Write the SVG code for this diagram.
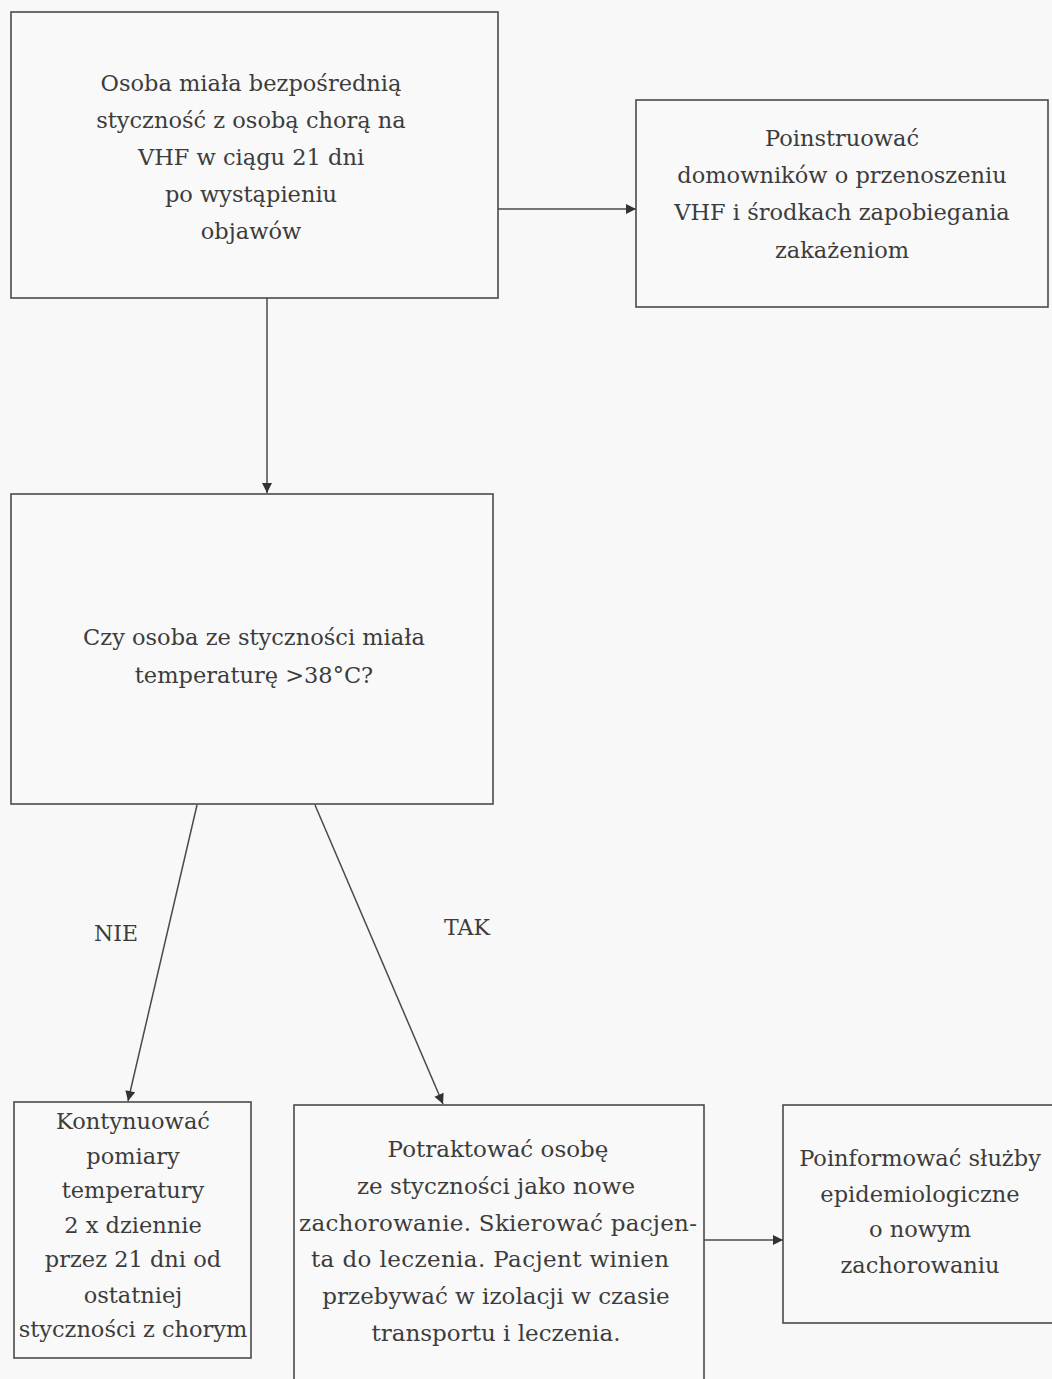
<svg xmlns="http://www.w3.org/2000/svg" width="1052" height="1379" viewBox="0 0 1052 1379">
<defs>
<style>
.bg{fill:#f8f8f8}
.box{fill:#f9f9f9;stroke:#4a4a4a;stroke-width:1.6}
.t{font-family:"DejaVu Serif","Liberation Serif",serif;font-size:22.5px;fill:#3c3c3c;text-anchor:middle}
.t5{font-family:"DejaVu Serif","Liberation Serif",serif;font-size:23px;fill:#3c3c3c;text-anchor:middle}
.lbl{font-family:"DejaVu Serif","Liberation Serif",serif;font-size:22px;fill:#3c3c3c;text-anchor:middle}
.c{stroke:#4a4a4a;stroke-width:1.5;fill:none;marker-end:url(#ah)}
</style>
<marker id="ah" viewBox="0 0 10 10" refX="10" refY="5" markerWidth="12" markerHeight="10" markerUnits="userSpaceOnUse" orient="auto">
<path d="M0,0 L10,5 L0,10 Z" fill="#333"/>
</marker>
</defs>
<rect class="bg" x="0" y="0" width="1052" height="1379"/>
<g id="connectors">
<path class="c" d="M498,209 L636,209"/>
<path class="c" d="M267,298 L267,493"/>
<path class="c" d="M197,805 L128,1101"/>
<path class="c" d="M315,805 L443,1104"/>
<path class="c" d="M704,1240 L783,1240"/>
<text class="lbl" x="116" y="941">NIE</text>
<text class="lbl" x="467" y="935">TAK</text>
</g>
<g id="n1">
<rect class="box" x="11" y="12" width="487" height="286"/>
<text class="t" x="251" y="91">Osoba miała bezpośrednią</text>
<text class="t" x="251" y="128">styczność z osobą chorą na</text>
<text class="t" x="251" y="165">VHF w ciągu 21 dni</text>
<text class="t" x="251" y="202">po wystąpieniu</text>
<text class="t" x="251" y="239">objawów</text>
</g>
<g id="n2">
<rect class="box" x="636" y="100" width="412" height="207"/>
<text class="t" x="842" y="146">Poinstruować</text>
<text class="t" x="842" y="183">domowników o przenoszeniu</text>
<text class="t" x="842" y="220">VHF i środkach zapobiegania</text>
<text class="t" x="842" y="258">zakażeniom</text>
</g>
<g id="n3">
<rect class="box" x="11" y="494" width="482" height="310"/>
<text class="t" x="254" y="645">Czy osoba ze styczności miała</text>
<text class="t" x="254" y="683">temperaturę &gt;38°C?</text>
</g>
<g id="n4">
<rect class="box" x="14" y="1102" width="237" height="256"/>
<text class="t" x="133" y="1129">Kontynuować</text>
<text class="t" x="133" y="1164">pomiary</text>
<text class="t" x="133" y="1198">temperatury</text>
<text class="t" x="133" y="1233">2 x dziennie</text>
<text class="t" x="133" y="1267">przez 21 dni od</text>
<text class="t" x="133" y="1303">ostatniej</text>
<text class="t" x="133" y="1337">styczności z chorym</text>
</g>
<g id="n5">
<rect class="box" x="294" y="1105" width="410" height="290"/>
<text class="t5" x="498" y="1157">Potraktować osobę</text>
<text class="t5" x="496" y="1194">ze styczności jako nowe</text>
<text class="t5" x="498" y="1231" textLength="398" lengthAdjust="spacing">zachorowanie. Skierować pacjen-</text>
<text class="t5" x="490" y="1267" textLength="358" lengthAdjust="spacing">ta do leczenia. Pacjent winien</text>
<text class="t5" x="496" y="1304">przebywać w izolacji w czasie</text>
<text class="t5" x="496" y="1341">transportu i leczenia.</text>
</g>
<g id="n6">
<rect class="box" x="783" y="1105" width="270" height="218"/>
<text class="t" x="920" y="1166">Poinformować służby</text>
<text class="t" x="920" y="1202">epidemiologiczne</text>
<text class="t" x="920" y="1237">o nowym</text>
<text class="t" x="920" y="1273">zachorowaniu</text>
</g>
</svg>
